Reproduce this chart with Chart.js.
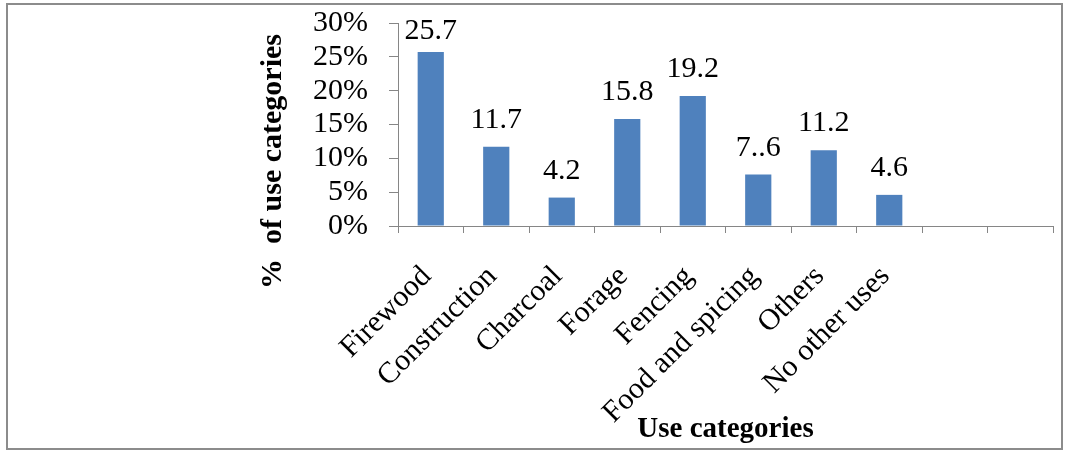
<!DOCTYPE html>
<html>
<head>
<meta charset="utf-8">
<script src="https://cdn.jsdelivr.net/npm/chart.js@4/dist/chart.umd.min.js"></script>
<style>
  html, body { margin: 0; padding: 0; background: #fff; }
  #chart { display: block; }
</style>
</head>
<body>
<canvas id="chart" width="1069" height="451"></canvas>
<script>
// values (% of use categories); last two slots are empty in the original
const categories = ["Firewood", "Construction", "Charcoal", "Forage", "Fencing", "Food and spicing", "Others", "No other uses", "", ""];
const shares = [25.7, 11.7, 4.2, 15.8, 19.2, 7.6, 11.2, 4.6, null, null];
// data labels exactly as printed (the "7..6" typo is in the source)
const valueLabels = ["25.7", "11.7", "4.2", "15.8", "19.2", "7..6", "11.2", "4.6"];
const yTicks = [0, 5, 10, 15, 20, 25, 30];

const SERIF = '"Liberation Serif", "Times New Roman", serif';
const AXIS_GREY = "#868686";
const BAR_BLUE = "#4F81BD";

// white background + grey outer frame
const frame = {
  id: "frame",
  beforeDraw(chart) {
    const { ctx, width, height } = chart;
    ctx.save();
    ctx.fillStyle = "#fff";
    ctx.fillRect(0, 0, width, height);
    ctx.strokeStyle = "#8c8c8c";
    ctx.lineWidth = 2;
    ctx.strokeRect(7, 4, 1055, 445);
    ctx.restore();
  }
};

// value labels above each bar
const barLabels = {
  id: "barLabels",
  afterDatasetsDraw(chart) {
    const { ctx, chartArea } = chart;
    const bars = chart.getDatasetMeta(0).data;
    ctx.save();
    ctx.font = `30px ${SERIF}`;
    ctx.fillStyle = "#000";
    ctx.textAlign = "center";
    ctx.textBaseline = "alphabetic";
    valueLabels.forEach((txt, i) => {
      const bar = bars[i];
      if (!bar) return;
      ctx.fillText(txt, bar.x, Math.max(bar.y - 19, chartArea.top + 16));
    });
    ctx.restore();
  }
};

// y title sits lower than the plot centre in the original, so draw it by hand
const yTitle = {
  id: "yTitle",
  afterDraw(chart) {
    const { ctx, chartArea } = chart;
    ctx.save();
    ctx.translate(273, (chartArea.top + chartArea.bottom) / 2 + 37);
    ctx.rotate(-Math.PI / 2);
    ctx.font = `bold 30px ${SERIF}`;
    ctx.fillStyle = "#000";
    ctx.textAlign = "center";
    ctx.textBaseline = "middle";
    ctx.fillText("%  of use categories", 0, 0);
    ctx.restore();
  }
};

new Chart(document.getElementById("chart"), {
  type: "bar",
  data: {
    labels: categories,
    datasets: [{
      data: shares,
      backgroundColor: BAR_BLUE,
      borderWidth: 0,
      categoryPercentage: 1.0,
      barPercentage: 0.4,
    }]
  },
  options: {
    responsive: false,
    animation: false,
    layout: { autoPadding: false, padding: { top: 23, right: 16, bottom: 4, left: 0 } },
    plugins: { legend: { display: false }, tooltip: { enabled: false } },
    scales: {
      x: {
        afterFit(scale) {
          scale.height = 221;
          scale.paddingLeft = 0;
          scale.paddingRight = 0;
        },
        grid: { drawOnChartArea: false, color: AXIS_GREY, tickLength: 7, offset: true },
        border: { color: AXIS_GREY, width: 1 },
        ticks: {
          autoSkip: false, minRotation: 45, maxRotation: 45, labelOffset: -4,
          color: "#000", font: { family: SERIF, size: 30 }, padding: 26,
        },
        title: {
          display: true, text: "Use categories", color: "#000",
          font: { family: SERIF, size: 29, weight: "bold" }, padding: 0,
        },
      },
      y: {
        min: 0, max: 30,
        afterFit(scale) {
          scale.width = 398;
          scale.paddingTop = 0;
          scale.paddingBottom = 0;
        },
        afterBuildTicks(scale) { scale.ticks = yTicks.map((v) => ({ value: v })); },
        grid: { drawOnChartArea: false, color: AXIS_GREY, tickLength: 9 },
        border: { color: AXIS_GREY, width: 1 },
        ticks: {
          autoSkip: false,
          color: "#000", font: { family: SERIF, size: 30 }, padding: 21,
          callback: (v) => v + "%",
        },
      },
    },
  },
  plugins: [frame, barLabels, yTitle],
});
</script>
</body>
</html>
